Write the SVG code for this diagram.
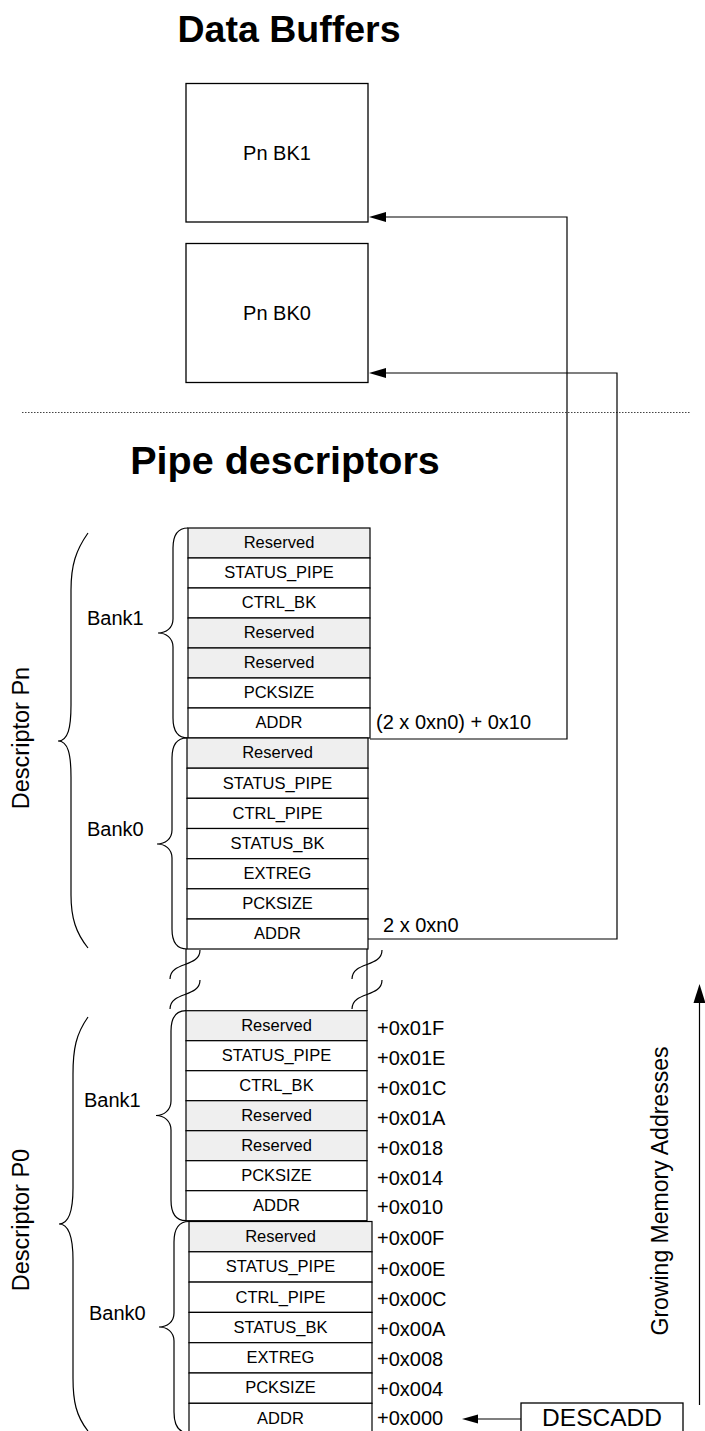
<svg xmlns="http://www.w3.org/2000/svg" width="705" height="1431" viewBox="0 0 705 1431">
<style>
.title{font-family:"Liberation Sans",Arial,sans-serif;font-weight:bold;font-size:37.5px;text-anchor:middle;fill:#000}
.buf{fill:#fff;stroke:#000;stroke-width:1.3}
.buft{font-family:"Liberation Sans",Arial,sans-serif;font-size:20px;text-anchor:middle;fill:#000}
.row{fill:#fff;stroke:#000;stroke-width:1.2}
.res{fill:#efefef;stroke:#000;stroke-width:1.2}
.rt{font-family:"Liberation Sans",Arial,sans-serif;font-size:16.5px;text-anchor:middle;fill:#000}
.off{font-family:"Liberation Sans",Arial,sans-serif;font-size:20px;fill:#000}
.lbl{font-family:"Liberation Sans",Arial,sans-serif;font-size:20px;fill:#000}
.desc{font-family:"Liberation Sans",Arial,sans-serif;font-size:23.5px;text-anchor:middle;fill:#000}
.br{fill:none;stroke:#000;stroke-width:1.2}
.ln{fill:none;stroke:#000;stroke-width:1.2}
.ah{fill:#000;stroke:none}
</style>

<text class="title" x="289" y="41.5">Data Buffers</text>
<text class="title" x="285" y="474" style="font-size:39.5px">Pipe descriptors</text>

<line x1="22" y1="412.5" x2="691" y2="412.5" stroke="#444" stroke-width="1.2" stroke-dasharray="1.5 1.5"/>

<g id="buf-bk1">
<rect class="buf" x="186" y="83.5" width="182" height="138.5"/>
<text class="buft" x="277" y="159.5">Pn BK1</text>
</g>
<g id="buf-bk0">
<rect class="buf" x="186" y="243.5" width="182" height="139"/>
<text class="buft" x="277" y="319.5">Pn BK0</text>
</g>

<g id="desc-pn">
<path class="br" d="M88 533 C76 550 71 565 71 590 L71 705 C71 728 68 741 58 741 C68 741 71 754 71 777 L71 895 C71 918 76 933 88 948"/>
<text class="desc" transform="translate(28.5 738) rotate(-90)">Descriptor Pn</text>
</g>

<g id="pn-bank1">
<path class="br" d="M188 528 C177 528 173 536 173 548 L173 619 C173 628 166 633 158 633 C166 633 173 638 173 647 L173 718 C173 730 177 738 188 738"/>
<text class="lbl" x="87" y="625">Bank1</text>
<rect class="res" x="188" y="528" width="182" height="30"/>
<rect class="row" x="188" y="558" width="182" height="30"/>
<rect class="row" x="188" y="588" width="182" height="30"/>
<rect class="res" x="188" y="618" width="182" height="30"/>
<rect class="res" x="188" y="648" width="182" height="30"/>
<rect class="row" x="188" y="678" width="182" height="30"/>
<rect class="row" x="188" y="708" width="182" height="30"/>
<text class="rt" x="279" y="548">Reserved</text>
<text class="rt" x="279" y="578">STATUS_PIPE</text>
<text class="rt" x="279" y="608">CTRL_BK</text>
<text class="rt" x="279" y="638">Reserved</text>
<text class="rt" x="279" y="668">Reserved</text>
<text class="rt" x="279" y="698">PCKSIZE</text>
<text class="rt" x="279" y="728">ADDR</text>
<text class="off" x="376" y="729">(2 x 0xn0) + 0x10</text>
</g>

<g id="pn-bank0">
<path class="br" d="M187 738 C176 738 172 746 172 758 L172 830 C172 839 165 844 157 844 C165 844 172 849 172 858 L172 929 C172 941 176 949 187 949"/>
<text class="lbl" x="87" y="836">Bank0</text>
<rect class="res" x="187" y="738" width="181" height="30.2"/>
<rect class="row" x="187" y="768.2" width="181" height="30.1"/>
<rect class="row" x="187" y="798.3" width="181" height="30.2"/>
<rect class="row" x="187" y="828.5" width="181" height="30.2"/>
<rect class="row" x="187" y="858.7" width="181" height="30.1"/>
<rect class="row" x="187" y="888.8" width="181" height="30.2"/>
<rect class="row" x="187" y="919" width="181" height="30"/>
<text class="rt" x="277.5" y="758">Reserved</text>
<text class="rt" x="277.5" y="788.5">STATUS_PIPE</text>
<text class="rt" x="277.5" y="818.5">CTRL_PIPE</text>
<text class="rt" x="277.5" y="848.5">STATUS_BK</text>
<text class="rt" x="277.5" y="879">EXTREG</text>
<text class="rt" x="277.5" y="909">PCKSIZE</text>
<text class="rt" x="277.5" y="939">ADDR</text>
<text class="off" x="383" y="932">2 x 0xn0</text>
</g>

<g id="gap">
<line class="ln" x1="186" y1="949" x2="186" y2="1011"/>
<line class="ln" x1="367" y1="949" x2="367" y2="1011"/>
<path class="br" d="M200 950 C200 968 170 961 170 979"/>
<path class="br" d="M200 980 C200 998 170 991 170 1009"/>
<path class="br" d="M382 950 C382 968 352 961 352 979"/>
<path class="br" d="M382 980 C382 998 352 991 352 1009"/>
</g>

<g id="desc-p0">
<path class="br" d="M88 1017 C76 1034 73 1049 73 1074 L73 1188 C73 1211 69 1224 59 1224 C69 1224 73 1237 73 1260 L73 1378 C73 1401 76 1416 88 1431"/>
<text class="desc" transform="translate(28.5 1220) rotate(-90)">Descriptor P0</text>
</g>

<g id="p0-bank1">
<path class="br" d="M186 1010.7 C175 1010.7 171 1019 171 1031 L171 1101 C171 1110 164 1115.5 156 1115.5 C164 1115.5 171 1121 171 1130 L171 1200 C171 1212 175 1220.7 186 1220.7"/>
<text class="lbl" x="84" y="1107">Bank1</text>
<rect class="res" x="186" y="1010.7" width="181" height="30"/>
<rect class="row" x="186" y="1040.7" width="181" height="30"/>
<rect class="row" x="186" y="1070.7" width="181" height="30"/>
<rect class="res" x="186" y="1100.7" width="181" height="30"/>
<rect class="res" x="186" y="1130.7" width="181" height="30"/>
<rect class="row" x="186" y="1160.7" width="181" height="30"/>
<rect class="row" x="186" y="1190.7" width="181" height="30"/>
<text class="rt" x="276.5" y="1030.7">Reserved</text>
<text class="rt" x="276.5" y="1060.7">STATUS_PIPE</text>
<text class="rt" x="276.5" y="1090.7">CTRL_BK</text>
<text class="rt" x="276.5" y="1120.7">Reserved</text>
<text class="rt" x="276.5" y="1150.7">Reserved</text>
<text class="rt" x="276.5" y="1180.7">PCKSIZE</text>
<text class="rt" x="276.5" y="1210.7">ADDR</text>
<text class="off" x="377" y="1034.5">+0x01F</text>
<text class="off" x="377" y="1064.5">+0x01E</text>
<text class="off" x="377" y="1094.5">+0x01C</text>
<text class="off" x="377" y="1124.5">+0x01A</text>
<text class="off" x="377" y="1154.5">+0x018</text>
<text class="off" x="377" y="1184.5">+0x014</text>
<text class="off" x="377" y="1214">+0x010</text>
</g>

<g id="p0-bank0">
<path class="br" d="M189 1221.5 C178 1221.5 174 1230 174 1242 L174 1313 C174 1322 167 1327 159 1327 C167 1327 174 1332 174 1341 L174 1412 C174 1424 178 1433 189 1433"/>
<text class="lbl" x="89" y="1320">Bank0</text>
<rect class="res" x="189" y="1221.5" width="183" height="30.3"/>
<rect class="row" x="189" y="1251.8" width="183" height="30.3"/>
<rect class="row" x="189" y="1282.1" width="183" height="30.3"/>
<rect class="row" x="189" y="1312.4" width="183" height="30.3"/>
<rect class="row" x="189" y="1342.7" width="183" height="30.3"/>
<rect class="row" x="189" y="1373" width="183" height="30.3"/>
<rect class="row" x="189" y="1403.3" width="183" height="30.3"/>
<text class="rt" x="280.5" y="1242">Reserved</text>
<text class="rt" x="280.5" y="1272">STATUS_PIPE</text>
<text class="rt" x="280.5" y="1302.5">CTRL_PIPE</text>
<text class="rt" x="280.5" y="1332.5">STATUS_BK</text>
<text class="rt" x="280.5" y="1363">EXTREG</text>
<text class="rt" x="280.5" y="1393">PCKSIZE</text>
<text class="rt" x="280.5" y="1423.5">ADDR</text>
<text class="off" x="377" y="1245">+0x00F</text>
<text class="off" x="377" y="1275.5">+0x00E</text>
<text class="off" x="377" y="1305.5">+0x00C</text>
<text class="off" x="377" y="1336">+0x00A</text>
<text class="off" x="377" y="1366">+0x008</text>
<text class="off" x="377" y="1396">+0x004</text>
<text class="off" x="377" y="1425">+0x000</text>
</g>

<g id="descadd">
<rect class="buf" x="521" y="1403" width="162" height="40"/>
<text class="buft" x="602" y="1425.5" style="font-size:24.5px">DESCADD</text>
</g>

<g id="growing">
<text class="desc" transform="translate(668 1191) rotate(-90)" style="font-size:23px">Growing Memory Addresses</text>
</g>

<g id="connectors">
<path class="ln" d="M370 739 L567 739 L567 217 L385 217" stroke="#222"/>
<polygon class="ah" points="369,217 386,212 386,222"/>
<path class="ln" d="M368 939 L617 939 L617 373 L385 373"/>
<polygon class="ah" points="369,373 386,368 386,378"/>
<line class="ln" x1="521" y1="1419" x2="477" y2="1419"/>
<polygon class="ah" points="462,1419 478,1414.5 478,1423.5"/>
<line class="ln" x1="699.5" y1="1405" x2="699.5" y2="1001"/>
<polygon class="ah" points="699.5,984 693.5,1003 705.5,1003"/>
</g>
</svg>
